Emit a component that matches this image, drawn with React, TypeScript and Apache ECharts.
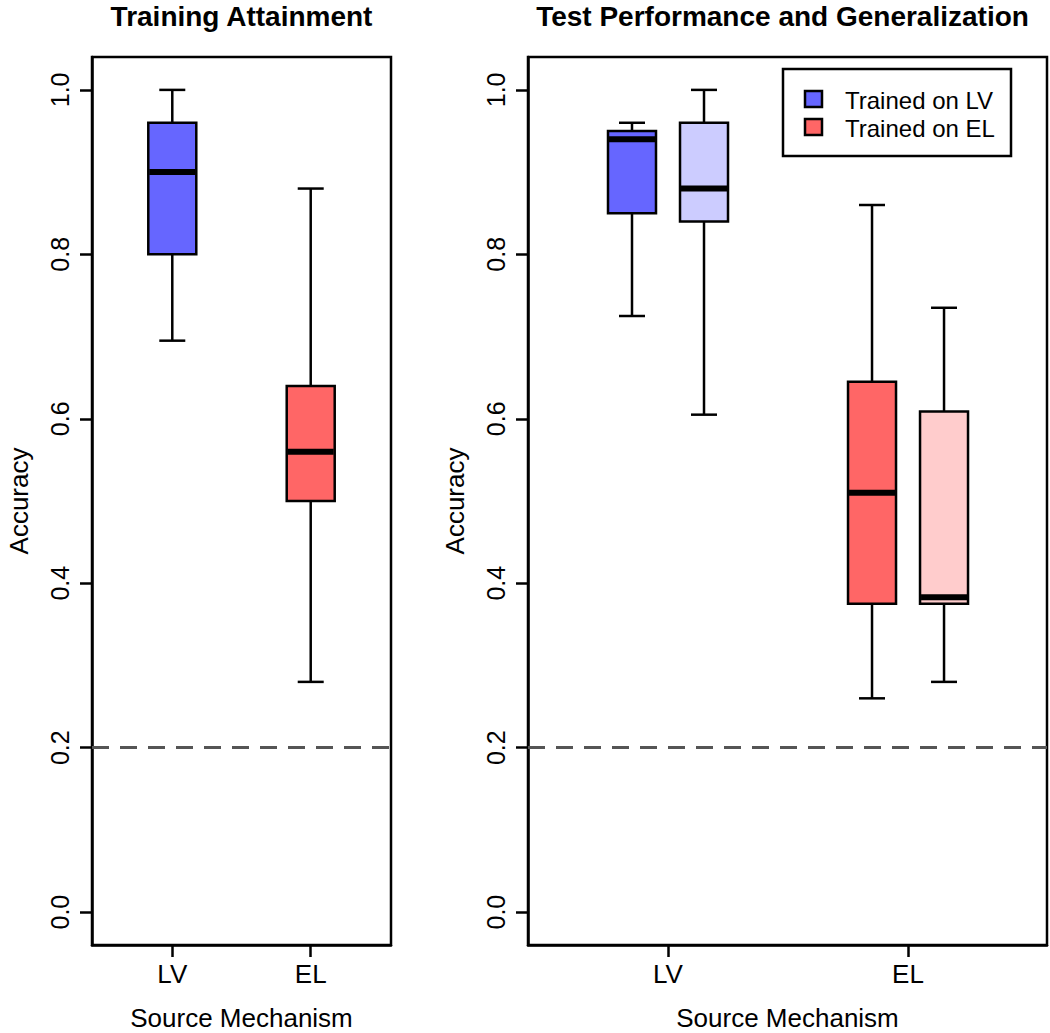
import React, { useEffect, useRef } from 'react';
import * as echarts from 'echarts';

// ---------- data ----------
const sourceMechanisms = ['LV', 'EL'];
const yTicks = [0, 0.2, 0.4, 0.6, 0.8, 1.0];
const chanceLevel = 0.2;

// each: [lower whisker, Q1, median, Q3, upper whisker]
const trainingLV = [0.695, 0.8, 0.9, 0.96, 1.0];
const trainingEL = [0.28, 0.5, 0.56, 0.64, 0.88];

const testLVTrainedLV = [0.725, 0.85, 0.94, 0.95, 0.96];
const testLVTrainedEL = [0.605, 0.84, 0.88, 0.96, 1.0];
const testELTrainedEL = [0.26, 0.375, 0.51, 0.645, 0.86];
const testELTrainedLV = [0.28, 0.375, 0.383, 0.609, 0.735];

const legendLabels = ['Trained on LV', 'Trained on EL'];
const panelTitles = ['Training Attainment', 'Test Performance and Generalization'];
const xAxisTitle = 'Source Mechanism';
const yAxisTitle = 'Accuracy';

// ---------- styles ----------
const BLUE = '#6666FF';
const LIGHT_BLUE = '#CCCCFF';
const RED = '#FF6666';
const PINK = '#FFCCCC';
const FONT = 'Liberation Sans, Arial, Helvetica, sans-serif';
const LW = 2.5;

const leftGrid = { left: 92, top: 57, width: 299, height: 888 };
const rightGrid = { left: 528, top: 57, width: 519, height: 888 };

const trainingBoxes = [
  { pos: 1, stats: trainingLV, color: BLUE },
  { pos: 2, stats: trainingEL, color: RED },
];
const GROUP_OFFSET = 0.15;
const testBoxes = [
  { pos: 1 - GROUP_OFFSET, stats: testLVTrainedLV, color: BLUE },
  { pos: 1 + GROUP_OFFSET, stats: testLVTrainedEL, color: LIGHT_BLUE },
  { pos: 2 - GROUP_OFFSET, stats: testELTrainedEL, color: RED },
  { pos: 2 + GROUP_OFFSET, stats: testELTrainedLV, color: PINK },
];

function makeRenderItem(colors: string[]) {
  return (params: any, api: any) => {
    const x = api.value(0);
    const [cx, yLo] = api.coord([x, api.value(1)]);
    const yQ1 = api.coord([x, api.value(2)])[1];
    const yMed = api.coord([x, api.value(3)])[1];
    const yQ3 = api.coord([x, api.value(4)])[1];
    const yHi = api.coord([x, api.value(5)])[1];
    const hw = 24;
    const cw = 13;
    const ls = { stroke: '#000', lineWidth: LW };
    return {
      type: 'group',
      children: [
        { type: 'line', shape: { x1: cx, y1: yQ3, x2: cx, y2: yHi }, style: ls },
        { type: 'line', shape: { x1: cx, y1: yLo, x2: cx, y2: yQ1 }, style: ls },
        { type: 'line', shape: { x1: cx - cw, y1: yHi, x2: cx + cw, y2: yHi }, style: ls },
        { type: 'line', shape: { x1: cx - cw, y1: yLo, x2: cx + cw, y2: yLo }, style: ls },
        {
          type: 'rect',
          shape: { x: cx - hw, y: yQ3, width: hw * 2, height: yQ1 - yQ3 },
          style: { fill: colors[params.dataIndex], stroke: '#000', lineWidth: LW },
        },
        {
          type: 'line',
          shape: { x1: cx - hw + 1, y1: yMed, x2: cx + hw - 1, y2: yMed },
          style: { stroke: '#000', lineWidth: 6 },
        },
      ],
    };
  };
}

function xAxisCfg(gridIndex: number, min: number, max: number) {
  return {
    type: 'value',
    gridIndex,
    min,
    max,
    splitLine: { show: false },
    axisLine: { show: true, onZero: false, lineStyle: { color: '#000', width: LW } },
    axisTick: { show: true, customValues: [1, 2], length: 12, lineStyle: { color: '#000', width: LW } },
    axisLabel: {
      customValues: [1, 2],
      formatter: (v: number) => sourceMechanisms[Math.round(v) - 1] ?? '',
      fontSize: 26,
      color: '#000',
      fontFamily: FONT,
      margin: 16,
    },
  };
}

function yAxisCfg(gridIndex: number) {
  return {
    type: 'value',
    gridIndex,
    min: -0.04,
    max: 1.04,
    splitLine: { show: false },
    axisLine: { show: true, onZero: false, lineStyle: { color: '#000', width: LW } },
    axisTick: { show: true, customValues: yTicks, length: 12, lineStyle: { color: '#000', width: LW } },
    axisLabel: {
      customValues: yTicks,
      formatter: (v: number) => v.toFixed(1),
      rotate: 90,
      fontSize: 25,
      color: '#000',
      fontFamily: FONT,
      margin: 20,
    },
  };
}

const chanceLine = {
  silent: true,
  symbol: 'none',
  label: { show: false },
  lineStyle: { color: '#555555', width: 3, type: [17, 11] },
  data: [{ yAxis: chanceLevel }],
};

function textEl(text: string, x: number, y: number, size: number, bold = false, rotation = 0) {
  return {
    type: 'text',
    x,
    y,
    rotation,
    z: 100,
    style: {
      text,
      fill: '#000',
      fontSize: size,
      fontWeight: bold ? 'bold' : 'normal',
      fontFamily: FONT,
      textAlign: 'center',
      textVerticalAlign: 'middle',
    },
  };
}

export default function App() {
  const ref = useRef<HTMLDivElement>(null);
  useEffect(() => {
    if (!ref.current) return;
    const chart = echarts.init(ref.current, null, { renderer: 'svg' });
    const gridStyle = { show: true, borderColor: '#000', borderWidth: LW, backgroundColor: 'transparent' };
    const leftCenter = leftGrid.left + leftGrid.width / 2;
    const rightCenter = rightGrid.left + rightGrid.width / 2;
    const midY = leftGrid.top + leftGrid.height / 2;
    chart.setOption({
      animation: false,
      backgroundColor: '#fff',
      grid: [
        { ...leftGrid, ...gridStyle },
        { ...rightGrid, ...gridStyle },
      ],
      xAxis: [xAxisCfg(0, 0.42, 2.58), xAxisCfg(1, 0.4167, 2.579)],
      yAxis: [yAxisCfg(0), yAxisCfg(1)],
      series: [
        {
          type: 'custom',
          name: panelTitles[0],
          xAxisIndex: 0,
          yAxisIndex: 0,
          renderItem: makeRenderItem(trainingBoxes.map((b) => b.color)),
          encode: { x: 0, y: [1, 2, 3, 4, 5] },
          data: trainingBoxes.map((b) => [b.pos, ...b.stats]),
          markLine: chanceLine,
          z: 3,
        },
        {
          type: 'custom',
          name: panelTitles[1],
          xAxisIndex: 1,
          yAxisIndex: 1,
          renderItem: makeRenderItem(testBoxes.map((b) => b.color)),
          encode: { x: 0, y: [1, 2, 3, 4, 5] },
          data: testBoxes.map((b) => [b.pos, ...b.stats]),
          markLine: chanceLine,
          z: 3,
        },
      ],
      graphic: [
        textEl(panelTitles[0], leftCenter, 16, 28, true),
        textEl(panelTitles[1], rightCenter - 5, 16, 28, true),
        textEl(xAxisTitle, leftCenter, 1018, 26),
        textEl(xAxisTitle, rightCenter, 1018, 26),
        textEl(yAxisTitle, 19, midY, 26, false, Math.PI / 2),
        textEl(yAxisTitle, rightGrid.left - 73, midY, 26, false, Math.PI / 2),
        {
          type: 'rect',
          z: 90,
          shape: { x: 783, y: 69, width: 228, height: 87 },
          style: { fill: '#fff', stroke: '#000', lineWidth: LW },
        },
        {
          type: 'rect',
          z: 95,
          shape: { x: 805, y: 91, width: 17, height: 16 },
          style: { fill: BLUE, stroke: '#000', lineWidth: LW },
        },
        {
          type: 'rect',
          z: 95,
          shape: { x: 805, y: 119, width: 17, height: 16 },
          style: { fill: RED, stroke: '#000', lineWidth: LW },
        },
        {
          type: 'text',
          z: 100,
          x: 845,
          y: 100,
          style: { text: legendLabels[0], fill: '#000', fontSize: 24, fontFamily: FONT, textAlign: 'left', textVerticalAlign: 'middle' },
        },
        {
          type: 'text',
          z: 100,
          x: 845,
          y: 128,
          style: { text: legendLabels[1], fill: '#000', fontSize: 24, fontFamily: FONT, textAlign: 'left', textVerticalAlign: 'middle' },
        },
      ],
    });
    return () => chart.dispose();
  }, []);
  return <div ref={ref} style={{ position: 'fixed', left: 0, top: 0, width: 1050, height: 1033 }} />;
}
